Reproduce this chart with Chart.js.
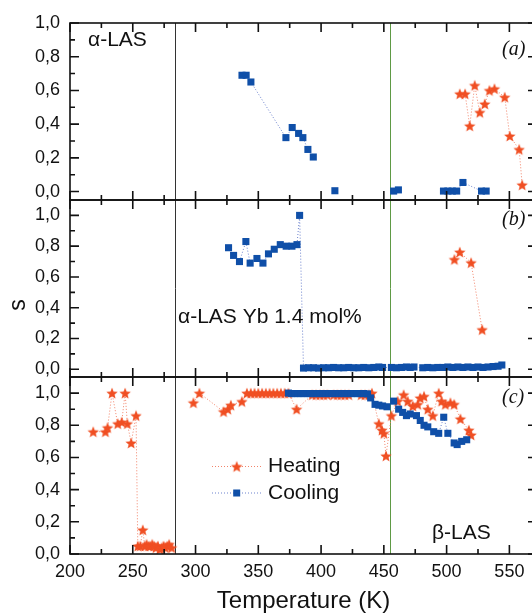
<!DOCTYPE html>
<html>
<head>
<meta charset="utf-8">
<script src="https://cdn.jsdelivr.net/npm/chart.js@4.4.1/dist/chart.umd.min.js"></script>
<style>
  html, body { margin: 0; padding: 0; background: #fff; overflow: hidden; }
  #wrap { position: absolute; left: 0; top: 0; width: 543px; height: 613px; }
</style>
</head>
<body>
<div id="wrap"><canvas id="myChart" width="543" height="613"></canvas></div>
<script>
// ticks
const xTicks = [200, 250, 300, 350, 400, 450, 500, 550];
const yTicks = [0, 0.2, 0.4, 0.6, 0.8, 1.0];
// transition lines (K)
const refLinesT = [283.5, 455];

// (a) alpha-LAS
const aHeatT = [510.5, 514.7, 518.4, 522.4, 526.4, 530.4, 534.1, 538.1, 546.3, 550.3, 557.8, 560.2];
const aHeatS = [0.58, 0.58, 0.39, 0.63, 0.47, 0.52, 0.60, 0.61, 0.56, 0.33, 0.25, 0.04];
const aCoolT = [337, 340.3, 344.1, 372, 377, 382.1, 385.5, 389.5, 393.8, 402, 411, 434, 457.8, 461.6, 480,
                497.5, 501, 504.5, 508, 513, 527.8, 531.5];
const aCoolS = [0.69, 0.69, 0.65, 0.32, 0.38, 0.345, 0.32, 0.25, 0.205, null, 0.005, null, 0.003, 0.01, null,
                0.003, 0.003, 0.003, 0.003, 0.054, 0.003, 0.003];

// (b) alpha-LAS Yb 1.4 mol%
const bHeatT = [506.2, 510.5, 519.5, 528.3];
const bHeatS = [0.714, 0.762, 0.693, 0.258];
const bCoolT = [326.3, 330.3, 335.0, 340.1, 343.5, 348.9, 353.7, 358.1, 362.7, 367.5, 372.2, 376.8, 380.8, 382.9,
                386, 390, 394, 398, 402, 406, 410, 414, 418, 422, 426, 430, 434, 438, 442, 446, 449,
                456, 460, 464, 468, 471, 474, 481, 485, 489, 493, 497, 501, 505, 509, 513, 517, 521, 525,
                529, 533, 537, 541, 544];
const bCoolS = [0.79, 0.74, 0.70, 0.83, 0.69, 0.72, 0.69, 0.75, 0.78, 0.81, 0.80, 0.80, 0.81, 1.0,
                0.008, 0.01, 0.01, 0.008, 0.01, 0.01, 0.012, 0.01, 0.01, 0.012, 0.01, 0.01, 0.012, 0.01, 0.012, 0.015, 0.012,
                0.012, 0.01, 0.012, 0.015, 0.012, 0.015, 0.01, 0.012, 0.01, 0.012, 0.012, 0.015, 0.012, 0.015, 0.012, 0.015, 0.012, 0.015,
                0.012, 0.015, 0.018, 0.02, 0.028];

// (c) beta-LAS
const cHeatT = [218.5, 228.2, 229.9, 233.5, 238, 241.2, 243.9, 245.7, 248.7, 252.6,
                254, 256, 258, 259.5, 261, 262.5, 264, 265.5, 267, 268.5, 270, 271.5, 273, 274.5, 276, 277.5, 279, 281,
                290,
                298.3, 303.1, 322.3, 325.7, 328.1, 336.9, 340.9, 344, 347, 350, 353, 356, 359, 362, 365, 368, 371, 374,
                380.5, 393, 396, 399, 402, 405, 410, 413, 416, 419, 422, 432, 435, 438, 440.5,
                446, 448.5, 450, 451.7, 456, 461, 465.8, 469, 473, 477, 479, 482, 485, 489, 493.7, 496, 499, 503, 506,
                511, 517.7, 519.5];
const cHeatS = [0.76, 0.76, 0.785, 1.0, 0.81, 0.82, 1.0, 0.81, 0.69, 0.86,
                0.05, 0.05, 0.15, 0.05, 0.06, 0.05, 0.05, 0.06, 0.05, 0.04, 0.05, 0.03, 0.04, 0.05, 0.04, 0.05, 0.06, 0.04,
                null,
                0.94, 1.0, 0.885, 0.90, 0.925, 0.948, 1.0, 1.0, 1.0, 1.0, 1.0, 1.0, 1.0, 1.0, 1.0, 1.0, 1.0, 1.0,
                0.9, 0.99, 0.99, 0.99, 0.99, 0.99, 0.99, 0.99, 0.99, 0.99, 0.99, 0.99, 0.99, 0.99, 1.0,
                0.81, 0.77, 0.75, 0.61, 0.86, 0.95, 0.99, 0.95, 0.92, 0.93, 0.97, 0.98, 0.90, 0.86, 1.0, 0.95, 0.93, 0.94, 0.93,
                0.84, 0.77, 0.74];
const cCoolT = [374, 376.5, 379, 381.5, 384, 386.5, 389, 391.5, 394, 396.5, 399, 401.5, 404, 406.5, 409, 411.5,
                414, 416.5, 419, 421.5, 424, 426.5, 429, 431.5, 434, 437, 439.5, 443, 446, 449, 452.5, 457.8,
                461.8, 465, 468, 471, 476, 479, 482, 485, 489.7, 493.7, 497.7, 501, 506, 508.4, 512, 516];
const cCoolS = [1.0, 0.997, 0.997, 0.997, 0.997, 0.997, 0.997, 0.997, 0.997, 0.997, 0.997, 0.997, 0.997, 0.997, 0.997, 0.997,
                0.997, 0.997, 0.997, 0.997, 0.997, 0.997, 0.997, 0.997, 0.997, 0.995, 0.97, 0.93, 0.925, 0.92, 0.915, 0.95,
                0.90, 0.88, 0.86, 0.87, 0.86, 0.83, 0.80, 0.79, 0.76, 0.75, 0.85, 0.75, 0.69, 0.68, 0.70, 0.71];

const RED = '#f04f23';
const BLUE = '#0f4fa8';
const RED_LINE = 'rgba(240,110,80,0.85)';
const BLUE_LINE = 'rgba(60,90,190,0.75)';
const FONT = "'Liberation Sans', Arial, sans-serif";

function starImage(r, color) {
  const c = document.createElement('canvas');
  const size = Math.ceil(r * 2) + 2;
  c.width = size; c.height = size;
  const g = c.getContext('2d');
  g.translate(size / 2, size / 2 + r * 0.1);
  g.beginPath();
  for (let i = 0; i < 10; i++) {
    const rad = i % 2 === 0 ? r : r * 0.44;
    const ang = -Math.PI / 2 + i * Math.PI / 5;
    g.lineTo(rad * Math.cos(ang), rad * Math.sin(ang));
  }
  g.closePath();
  g.fillStyle = color;
  g.fill();
  return c;
}
const star = starImage(6, RED);

const pts = (T, S) => T.map((t, i) => ({ x: t, y: S[i] }));

function heatSet(T, S, axis) {
  return { data: pts(T, S), yAxisID: axis, order: 2, pointStyle: star, pointRadius: 5,
           borderColor: RED_LINE, borderWidth: 1, borderDash: [1, 2], backgroundColor: RED, tension: 0 };
}
function coolSet(T, S, axis) {
  return { data: pts(T, S), yAxisID: axis, order: 1, pointStyle: 'rect', pointRadius: 5, pointBorderWidth: 0,
           pointBackgroundColor: BLUE, borderColor: BLUE_LINE, borderWidth: 1, borderDash: [1, 2], tension: 0 };
}

function yAxis(min, max) {
  return {
    type: 'linear', position: 'left', stack: 'panels', stackWeight: 1, min: min, max: max,
    afterBuildTicks: s => { s.ticks = yTicks.map(v => ({ value: v })); },
    afterFit: s => { s.width = 70; },
    grid: { display: false, drawTicks: false },
    border: { display: false },
    ticks: { autoSkip: false, padding: 10, color: '#111', font: { size: 18, family: FONT },
             callback: v => v.toFixed(1).replace('.', ',') }
  };
}

const framePlugin = {
  id: 'frames',
  beforeDatasetsDraw(chart) {
    const { ctx, chartArea: ca, scales } = chart;
    const colors = ['#333', '#5f9a45'];
    ctx.save();
    refLinesT.forEach((t, i) => {
      const px = Math.round(scales.x.getPixelForValue(t)) + 0.5;
      ctx.strokeStyle = colors[i];
      ctx.lineWidth = 1;
      ctx.beginPath(); ctx.moveTo(px, ca.top); ctx.lineTo(px, ca.bottom); ctx.stroke();
    });
    ctx.restore();
  },
  afterDatasetsDraw(chart) {
    const { ctx, chartArea: ca, scales } = chart;
    const x = scales.x;
    ctx.save();
    ctx.strokeStyle = '#111';
    ctx.lineWidth = 1.6;
    ['ya', 'yb', 'yc'].forEach(id => {
      const y = scales[id];
      ctx.strokeRect(ca.left, y.top, ca.right - ca.left, y.bottom - y.top);
      ctx.beginPath();
      for (let v = 200; v <= x.max; v += 25) {
        const px = x.getPixelForValue(v);
        const len = v % 50 === 0 ? 9 : 5;
        ctx.moveTo(px, y.top); ctx.lineTo(px, y.top + len);
        ctx.moveTo(px, y.bottom); ctx.lineTo(px, y.bottom - len);
      }
      for (let k = 0; k <= 10; k++) {
        const py = y.getPixelForValue(k / 10);
        const len = k % 2 === 0 ? 9 : 5;
        ctx.moveTo(ca.left, py); ctx.lineTo(ca.left + len, py);
        ctx.moveTo(ca.right, py); ctx.lineTo(ca.right - len, py);
      }
      ctx.stroke();
    });

    // labels
    const ya = scales.ya, yb = scales.yb, yc = scales.yc;
    ctx.fillStyle = '#111';
    ctx.textBaseline = 'middle';
    ctx.textAlign = 'left';
    ctx.font = '21px ' + FONT;
    ctx.fillText('α-LAS', ca.left + 18, ya.top + 17);
    ctx.fillText('α-LAS Yb 1.4 mol%', ca.left + 108, yb.top + 117);
    ctx.fillText('β-LAS', ca.left + 362, yc.top + 156);

    ctx.textAlign = 'left';
    ctx.font = 'italic 20px "Liberation Serif", "Times New Roman", serif';
    ctx.fillText('(a)', ca.left + 432, ya.top + 27);
    ctx.fillText('(b)', ca.left + 432, yb.top + 20);
    ctx.fillText('(c)', ca.left + 432, yc.top + 21);

    // legend
    const rows = [
      { y: yc.top + 89.5, line: RED_LINE, label: 'Heating', kind: 'star' },
      { y: yc.top + 116, line: BLUE_LINE, label: 'Cooling', kind: 'rect' }
    ];
    rows.forEach(r => {
      ctx.strokeStyle = r.line;
      ctx.lineWidth = 1;
      ctx.setLineDash([1, 2]);
      ctx.beginPath(); ctx.moveTo(ca.left + 142, r.y); ctx.lineTo(ca.left + 193, r.y); ctx.stroke();
      ctx.setLineDash([]);
      const mx = ca.left + 166.7;
      if (r.kind === 'star') {
        ctx.drawImage(star, mx - star.width / 2, r.y - star.height / 2);
      } else {
        ctx.fillStyle = BLUE;
        ctx.fillRect(mx - 3.5, r.y - 3.5, 7, 7);
      }
      ctx.fillStyle = '#111';
      ctx.textAlign = 'left';
      ctx.font = '21px ' + FONT;
      ctx.fillText(r.label, ca.left + 198, r.y);
    });

    // y title
    ctx.save();
    ctx.translate(19, 305);
    ctx.rotate(-Math.PI / 2);
    ctx.textAlign = 'center';
    ctx.font = '23px ' + FONT;
    ctx.fillText('s', 0, 0);
    ctx.restore();
    ctx.restore();
  }
};

const ctx = document.getElementById('myChart');
new Chart(ctx, {
  type: 'line',
  data: {
    datasets: [
      heatSet(aHeatT, aHeatS, 'ya'), coolSet(aCoolT, aCoolS, 'ya'),
      heatSet(bHeatT, bHeatS, 'yb'), coolSet(bCoolT, bCoolS, 'yb'),
      heatSet(cHeatT, cHeatS, 'yc'), coolSet(cCoolT, cCoolS, 'yc')
    ]
  },
  options: {
    responsive: false,
    animation: false,
    devicePixelRatio: 1,
    layout: { padding: { top: 23, left: 0, right: 6, bottom: 0 } },
    plugins: { legend: { display: false }, tooltip: { enabled: false } },
    scales: {
      x: {
        type: 'linear', min: 200, max: 572,
        afterBuildTicks: s => { s.ticks = xTicks.map(v => ({ value: v })); },
        afterFit: s => { s.height = 59; },
        grid: { display: false, drawTicks: false },
        border: { display: false },
        ticks: { autoSkip: false, maxRotation: 0, padding: 7, color: '#111', font: { size: 18, family: FONT } },
        title: { display: true, text: 'Temperature (K)', color: '#111',
                 font: { size: 24, family: FONT, lineHeight: 1 }, padding: { top: 0, bottom: 0 } }
      },
      // stacked panels: the last one listed is placed on top
      yc: yAxis(0, 1.1),
      yb: yAxis(-0.05, 1.1),
      ya: yAxis(-0.05, 1.0)
    }
  },
  plugins: [framePlugin]
});
</script>
</body>
</html>
